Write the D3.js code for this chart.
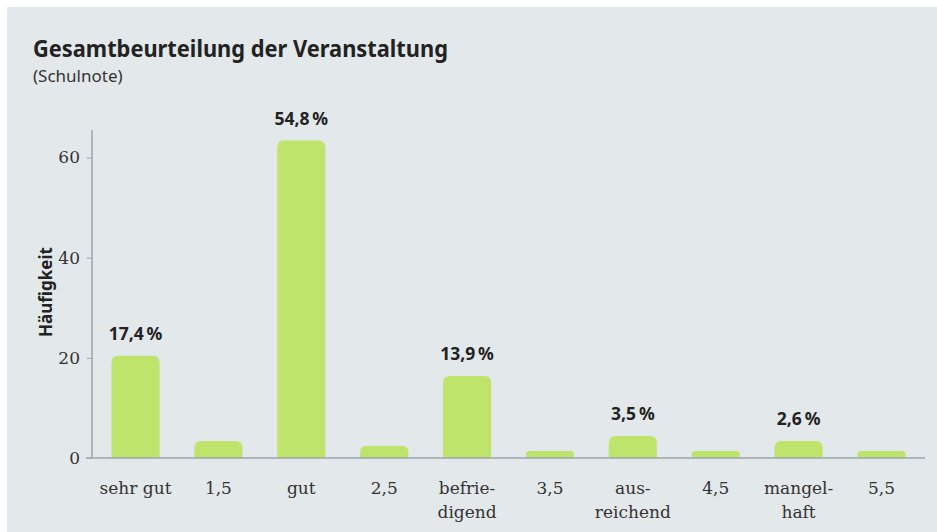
<!DOCTYPE html>
<meta charset="utf-8">
<style>
  html, body { margin: 0; padding: 0; background: #fff; }
  svg { display: block; }
</style>
<svg width="937" height="532"></svg>
<script src="https://d3js.org/d3.v7.min.js"></script>
<script>
// data (counts, total n = 115)
var categories = ["sehr gut", "1,5", "gut", "2,5", "befriedigend", "3,5", "ausreichend", "4,5", "mangelhaft", "5,5"]
var categoryLines = [["sehr gut"], ["1,5"], ["gut"], ["2,5"], ["befrie-", "digend"], ["3,5"], ["aus-", "reichend"], ["4,5"], ["mangel-", "haft"], ["5,5"]]
var counts = [20, 3, 63, 2, 16, 1, 4, 1, 3, 1]
var percentLabels = ["17,4\u202F%", "", "54,8\u202F%", "", "13,9\u202F%", "", "3,5\u202F%", "", "2,6\u202F%", ""]
var yTicks = [0, 20, 40, 60]

var width = 937
var height = 532
var svg = d3.select('svg')

var sans = "'Noto Sans', 'Open Sans', sans-serif"
var serif = "'DejaVu Serif', 'Liberation Serif', serif"
var textColor = "#333"
var axisColor = "#9ba6ae"
var barColor = "#bee46c"

// panel background
svg.append("rect")
  .attr("x", 7).attr("y", 7)
  .attr("width", width - 7).attr("height", height - 7)
  .attr("fill", "#e3e8eb")

svg.append("text")
  .attr("x", 33).attr("y", 57)
  .attr("font-family", sans).attr("font-weight", 700)
  .attr("font-size", 23).attr("fill", "#222")
  .attr("textLength", 415).attr("lengthAdjust", "spacingAndGlyphs")
  .text("Gesamtbeurteilung der Veranstaltung")

svg.append("text")
  .attr("x", 33).attr("y", 82)
  .attr("font-family", sans).attr("font-size", 17).attr("fill", textColor)
  .text("(Schulnote)")

var x = d3.scaleBand()
  .domain(categories)
  .range([92, 925])
  .paddingInner(0.42)
  .paddingOuter(0.235)

var y = d3.scaleLinear()
  .domain([0, 65.5])
  .range([458, 130])

// bars with rounded top corners
var r = 7
svg.append("g").selectAll("path")
  .data(counts)
  .enter().append("path")
    .attr("fill", barColor)
    .attr("d", function (d, i) {
      var x0 = x(categories[i]), x1 = x0 + x.bandwidth()
      var top = y(d) - 2, bottom = y(0)
      var rr = Math.min(r, (bottom - top) / 2)
      return "M" + x0 + "," + bottom +
        "V" + (top + rr) +
        "Q" + x0 + "," + top + " " + (x0 + rr) + "," + top +
        "H" + (x1 - rr) +
        "Q" + x1 + "," + top + " " + x1 + "," + (top + rr) +
        "V" + bottom + "Z"
    })

svg.append("g").selectAll("text")
  .data(counts)
  .enter().append("text")
    .attr("x", function (d, i) { return x(categories[i]) + x.bandwidth() / 2 })
    .attr("y", function (d) { return y(d) - 18 })
    .attr("text-anchor", "middle")
    .attr("font-family", sans).attr("font-weight", 700)
    .attr("font-size", 17.5).attr("fill", "#222")
    .text(function (d, i) { return percentLabels[i] })

// y axis
var yAxis = svg.append("g")
  .attr("transform", "translate(92,0)")
  .call(d3.axisLeft(y).tickValues(yTicks).tickSize(5).tickPadding(7))
yAxis.select(".domain").attr("stroke", axisColor).attr("stroke-width", 1.5).attr("d", "M0," + y(0) + "V" + y(65.5))
yAxis.selectAll(".tick line").attr("stroke", axisColor)
yAxis.selectAll(".tick text")
  .attr("font-family", serif).attr("font-size", 17).attr("fill", textColor)

// x axis
var xAxis = svg.append("g")
  .attr("transform", "translate(0," + y(0) + ")")
  .call(d3.axisBottom(x).tickSize(0).tickPadding(0).tickFormat(""))
xAxis.select(".domain").attr("stroke", axisColor).attr("stroke-width", 1.5).attr("d", "M86,0H925")
xAxis.selectAll(".tick text").remove()
xAxis.selectAll(".tick").append("text")
  .attr("text-anchor", "middle")
  .attr("font-family", serif).attr("font-size", 17).attr("fill", textColor)
  .each(function (d, i) {
    var t = d3.select(this)
    categoryLines[i].forEach(function (line, j) {
      t.append("tspan").attr("x", 0).attr("y", 36 + j * 24).text(line)
    })
  })

svg.append("text")
  .attr("transform", "translate(52,292) rotate(-90)")
  .attr("text-anchor", "middle")
  .attr("font-family", sans).attr("font-weight", 700)
  .attr("font-size", 17).attr("fill", "#222")
  .text("Häufigkeit")
</script>
